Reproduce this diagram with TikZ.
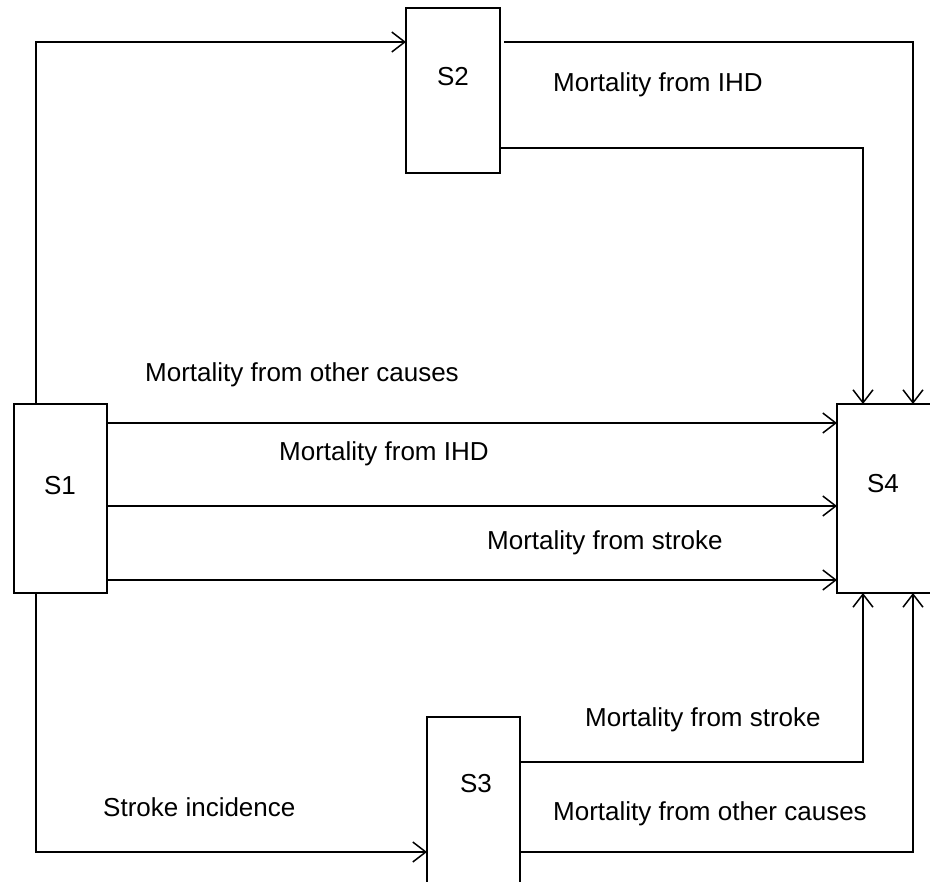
\documentclass[tikz,border=0pt]{standalone}
\usepackage{fontspec}
\setmainfont{Liberation Sans}
\usetikzlibrary{arrows.meta}
\begin{document}
\begin{tikzpicture}[x=1pt,y=-1pt,
  box/.style={draw,line width=1.5pt,inner sep=0pt,outer sep=0pt,anchor=north west},
  boxlabel/.style={inner sep=0pt,font=\fontsize{26}{30}\selectfont},
  lab/.style={inner sep=0pt,anchor=base west,font=\fontsize{26}{30}\selectfont},
  conn/.style={line width=1.5pt},
  arr/.style={line width=1.5pt,-{Straight Barb[length=13pt,width=20pt,line width=1.5pt]}}]
\clip (0,0) rectangle (930,882);
\fill[white] (0,0) rectangle (930,882);
% boxes
\node[box,minimum width=93pt,minimum height=189pt] (s1) at (14,404) {};
\node[box,minimum width=94pt,minimum height=165pt] (s2) at (406,8) {};
\node[box,minimum width=93pt,minimum height=175pt] (s3) at (427,717) {};
\node[box,minimum width=95pt,minimum height=189pt] (s4) at (837,404) {};
\node[boxlabel] (t1) at (60,486) {S1};
\node[boxlabel] (t2) at (453,77) {S2};
\node[boxlabel] (t3) at (476,784) {S3};
\node[boxlabel] (t4) at (883,484) {S4};
% labels
\node[lab] (l1) at (553,92) {Mortality from IHD};
\node[lab] (l2) at (145,382) {Mortality from other causes};
\node[lab] (l3) at (279,461) {Mortality from IHD};
\node[lab] (l4) at (487,550) {Mortality from stroke};
\node[lab] (l5) at (585,726) {Mortality from stroke};
\node[lab] (l6) at (103,816) {Stroke incidence};
\node[lab] (l7) at (553,820) {Mortality from other causes};
% connectors
\draw[arr] ([xshift=22pt]s1.north west) |- ([yshift=-34pt]s2.north west);
\draw[arr] ([xshift=4pt,yshift=-34pt]s2.north east) -| ([xshift=76pt]s4.north west);
\draw[arr] ([yshift=25pt]s2.south east) -| ([xshift=26pt]s4.north west);
\draw[arr] ([yshift=-19pt]s1.north east) coordinate (a1) -- (a1 -| s4.west);
\draw[arr] ([yshift=-102pt]s1.north east) coordinate (a2) -- (a2 -| s4.west);
\draw[arr] ([yshift=-176pt]s1.north east) coordinate (a3) -- (a3 -| s4.west);
\draw[arr] ([xshift=22pt]s1.south west) |- ([yshift=-135pt]s3.north west);
\draw[arr] ([yshift=-45pt]s3.north east) -| ([xshift=26pt]s4.south west);
\draw[arr] ([yshift=-135pt]s3.north east) -| ([xshift=76pt]s4.south west);
\end{tikzpicture}
\end{document}
